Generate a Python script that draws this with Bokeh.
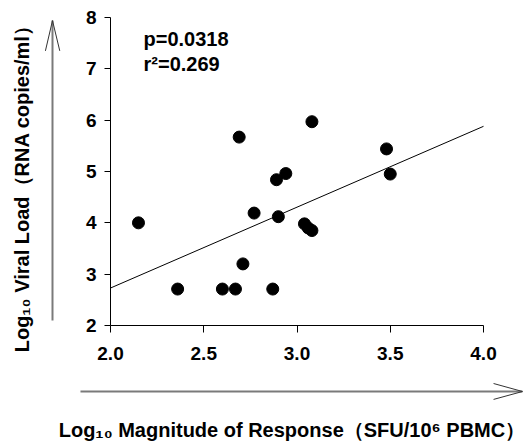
from bokeh.plotting import figure
from bokeh.models import Range1d, FixedTicker, NumeralTickFormatter, Label, Arrow
from bokeh.embed import file_html
from bokeh.resources import INLINE

# Data
magnitude = [2.15, 2.36, 2.60, 2.67, 2.71, 2.77, 2.87, 2.89, 2.90, 2.94, 3.04, 3.06, 3.08, 3.50, 3.48, 2.69, 3.08]
viral_load = [4.00, 2.71, 2.71, 2.71, 3.20, 4.19, 2.71, 4.84, 4.12, 4.96, 3.98, 3.90, 3.85, 4.95, 5.44, 5.67, 5.97]
fit_x = [2.0, 4.0]
fit_y = [2.73, 5.88]
x_ticks = [2.0, 2.5, 3.0, 3.5, 4.0]
y_ticks = [2, 3, 4, 5, 6, 7, 8]
p_text = "p=0.0318"
r2_text = "r\u00b2=0.269"
x_title = "Log\u2081\u2080 Magnitude of Response\uff08SFU/10\u2076 PBMC\uff09"
y_title = "Log\u2081\u2080 Viral Load\uff08RNA copies/ml\uff09"

FONT = "Liberation Sans"
W, H = 527, 441
# pixel placement of the axis box: x 2.0 -> 110px, 4.0 -> 483px; y 8 -> 17px, 2 -> 325px
XPX = (483 - 110) / 2.0
YPX = (325 - 17) / 6.0
x0 = 2.0 - 110 / XPX
x1 = 2.0 + (W - 110) / XPX
y1 = 8.0 + 17 / YPX
y0 = 8.0 - (H - 17) / YPX

p = figure(width=W, height=H, output_backend="svg", toolbar_location=None,
           x_range=Range1d(x0, x1), y_range=Range1d(y0, y1),
           min_border_left=0, min_border_right=0, min_border_top=0, min_border_bottom=0)
p.outline_line_color = None
p.grid.grid_line_color = None
p.background_fill_color = "white"
p.border_fill_color = "white"

p.xaxis.ticker = FixedTicker(ticks=x_ticks)
p.xaxis.formatter = NumeralTickFormatter(format="0.0")
p.yaxis.ticker = FixedTicker(ticks=y_ticks)
p.xaxis.fixed_location = y_ticks[0]
p.yaxis.fixed_location = x_ticks[0]
p.xaxis.bounds = (x_ticks[0], x_ticks[-1])
p.yaxis.bounds = (y_ticks[0], y_ticks[-1])
for ax in (p.xaxis, p.yaxis):
    ax.axis_line_color = "black"
    ax.axis_line_width = 1
    ax.major_tick_line_color = "black"
    ax.major_tick_in = 0
    ax.minor_tick_line_color = None
    ax.major_label_text_font = FONT
    ax.major_label_text_font_style = "bold"
    ax.major_label_text_font_size = "19px"
    ax.major_label_text_color = "black"
p.xaxis.major_tick_out = 7
p.yaxis.major_tick_out = 6
p.xaxis.major_label_standoff = 14
p.yaxis.major_label_standoff = 8

p.line(fit_x, fit_y, line_color="black", line_width=1)
p.scatter(magnitude, viral_load, size=12, marker="circle", fill_color="black", line_color="black")

p.add_layout(Label(x=2.177, y=7.59, text=p_text, text_font=FONT, text_font_style="bold",
                   text_font_size="20px", text_color="black", text_baseline="alphabetic"))
p.add_layout(Label(x=2.177, y=7.10, text=r2_text, text_font=FONT, text_font_style="bold",
                   text_font_size="20px", text_color="black", text_baseline="alphabetic"))

# axis titles
p.add_layout(Label(x=2.973, y=-0.04, text=x_title, text_font=FONT, text_font_style="bold",
                   text_font_size="20px", text_color="black", text_align="center",
                   text_baseline="alphabetic"))
p.add_layout(Label(x=1.528, y=4.76, text=y_title, text_font=FONT, text_font_style="bold",
                   text_font_size="20px", text_color="black", text_align="center",
                   text_baseline="middle", angle=1.5707963))

# decorative arrows (gray shafts, dark open heads)
GRAY = "#7a7a7a"
HEAD = "#333333"

def seg(xa, ya, xb, yb, color, width):
    p.add_layout(Arrow(end=None, x_start=xa, y_start=ya, x_end=xb, y_end=yb,
                       line_color=color, line_width=width))

seg(1.689, 2.097, 1.689, 7.94, GRAY, 2)
seg(1.651, 7.35, 1.689, 7.94, HEAD, 1)
seg(1.728, 7.35, 1.689, 7.94, HEAD, 1)
seg(1.839, 0.714, 4.209, 0.714, GRAY, 2)
seg(4.054, 0.87, 4.209, 0.714, HEAD, 1)
seg(4.054, 0.56, 4.209, 0.714, HEAD, 1)

open("out.html", "w").write(file_html(p, INLINE))
